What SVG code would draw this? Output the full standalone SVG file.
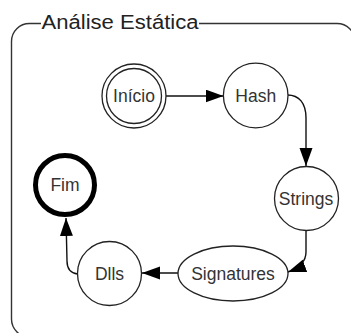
<svg xmlns="http://www.w3.org/2000/svg" width="351" height="333" viewBox="0 0 351 333">
  <style>
    .node { fill: #ffffff; stroke: #222222; stroke-width: 1.3; }
    .final { fill: #ffffff; stroke: #000000; stroke-width: 5; }
    .label { font-family: "Liberation Sans", Arial, sans-serif; font-size: 17.5px; fill: #333333; text-anchor: middle; }
    .title { font-family: "Liberation Sans", Arial, sans-serif; font-size: 20px; fill: #222222; }
    .edge { fill: none; stroke: #111111; stroke-width: 1.4; }
    .frame { fill: none; stroke: #333333; stroke-width: 1.4; }
  </style>
  <defs>
    <marker id="arrow" markerUnits="userSpaceOnUse" markerWidth="20" markerHeight="14" refX="18" refY="6.5" orient="auto">
      <polygon points="0,0 18,6.5 0,13" fill="#000000"/>
    </marker>
  </defs>

  <!-- frame with its title set into the top edge -->
  <g id="frame">
    <path class="frame" d="M41,23.5 L29.5,23.5 A18,18 0 0 0 11.5,41.5 L11.5,319 A18,18 0 0 0 29.5,337"/>
    <path class="frame" d="M199,23.5 L337,23.5 A18,18 0 0 1 355,41.5"/>
    <text class="title" x="41.5" y="28.5" textLength="157" lengthAdjust="spacingAndGlyphs">Análise Estática</text>
  </g>

  <!-- connectors -->
  <g id="connectors">
    <path class="edge" marker-end="url(#arrow)" d="M165.5,96 L223.5,96"/>
    <path class="edge" marker-end="url(#arrow)" d="M287.5,95 C299,95 306,103 306,118 L306,166"/>
    <path class="edge" marker-end="url(#arrow)" d="M306,230 L306,252 C306,262 299,268 288,272"/>
    <path class="edge" marker-end="url(#arrow)" d="M178,273 L142,273"/>
    <path class="edge" marker-end="url(#arrow)" d="M77.5,274 C70,273 67,269 67,261 L66,218"/>
  </g>

  <g id="inicio">
    <circle class="node" cx="134" cy="96" r="32"/>
    <circle class="node" cx="134" cy="96" r="27.5"/>
    <text class="label" x="134" y="102">Início</text>
  </g>

  <g id="hash">
    <circle class="node" cx="255.7" cy="95.5" r="32.3"/>
    <text class="label" x="255.7" y="101.5">Hash</text>
  </g>

  <g id="strings">
    <circle class="node" cx="306.5" cy="198.5" r="32"/>
    <text class="label" x="306" y="204.5">Strings</text>
  </g>

  <g id="signatures">
    <ellipse class="node" cx="233" cy="273.5" rx="55" ry="27.5"/>
    <text class="label" x="233" y="279.5">Signatures</text>
  </g>

  <g id="dlls">
    <circle class="node" cx="109.5" cy="273.5" r="32"/>
    <text class="label" x="109.5" y="279.5">Dlls</text>
  </g>

  <g id="fim">
    <circle class="final" cx="65" cy="185" r="29.5"/>
    <text class="label" x="65" y="191">Fim</text>
  </g>
</svg>
